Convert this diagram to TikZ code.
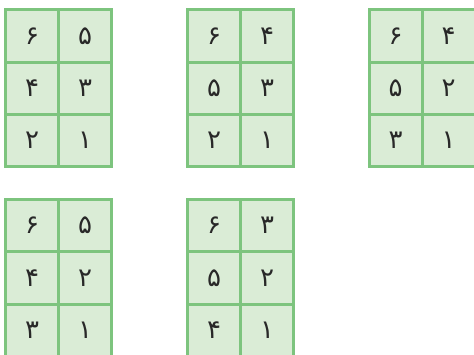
\documentclass[tikz,border=0pt]{standalone}
\usepackage{fontspec}
\newfontfamily\fafont[Script=Arabic]{DejaVu Sans}
\TeXXeTstate=1
\definecolor{cellfill}{RGB}{218,236,214}
\definecolor{cellline}{RGB}{125,196,126}
\definecolor{digitcol}{RGB}{40,40,40}
\begin{document}
\begin{tikzpicture}[x=1pt,y=-1pt,
  cell/.style={draw=cellline,fill=cellfill,line width=3pt,minimum width=53pt,minimum height=52.3pt,inner sep=0pt,
    font=\fafont\fontsize{26}{28}\selectfont,text=digitcol}]
\useasboundingbox (0,0) rectangle (474,355);
\clip (0,0) rectangle (474,355);
\foreach \g/\x/\y/\a/\b/\c/\d/\e/\f in {1/5.5/10/۶/۵/۴/۳/۲/۱,2/187.5/10/۶/۴/۵/۳/۲/۱,3/369/10/۶/۴/۵/۲/۳/۱,4/5.5/199.5/۶/۵/۴/۲/۳/۱,5/187.5/199.5/۶/۳/۵/۲/۴/۱}{
  \node[cell] (g\g-11) at (\x+26.5,\y+26.15) {\beginR\a\endR};
  \node[cell] (g\g-12) at (\x+79.5,\y+26.15) {\beginR\b\endR};
  \node[cell] (g\g-21) at (\x+26.5,\y+78.45) {\beginR\c\endR};
  \node[cell] (g\g-22) at (\x+79.5,\y+78.45) {\beginR\d\endR};
  \node[cell] (g\g-31) at (\x+26.5,\y+130.75) {\beginR\e\endR};
  \node[cell] (g\g-32) at (\x+79.5,\y+130.75) {\beginR\f\endR};
}
\end{tikzpicture}
\end{document}
